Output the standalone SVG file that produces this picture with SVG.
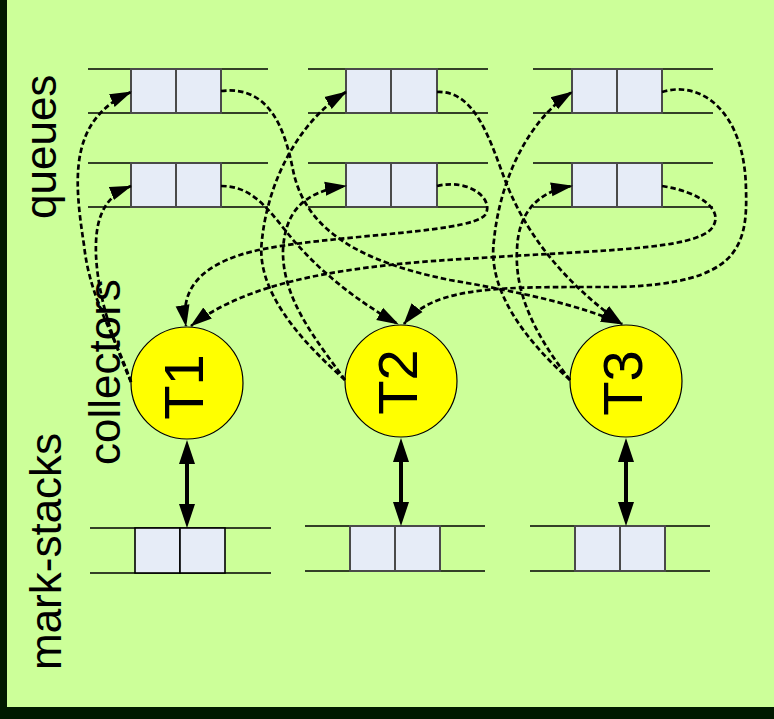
<svg xmlns="http://www.w3.org/2000/svg" width="774" height="719" viewBox="0 0 774 719">
<defs>
<style>
.bg{fill:#CCFF99}
.dark{fill:#001a00}
.ql{stroke:#000;stroke-width:1.4;fill:none}
.cell{fill:#E6ECF7;stroke:#4a4a4a;stroke-width:2}
.circ{fill:#FFFF00;stroke:#000;stroke-width:1.2}
.lbl{font-family:"Liberation Sans",Arial,sans-serif;font-size:44px;fill:#000}
.tl{font-family:"Liberation Sans",Arial,sans-serif;font-size:56px;fill:#000;text-anchor:middle}
.dash{fill:none;stroke:#000;stroke-width:2.7;stroke-dasharray:5.5 3;marker-end:url(#ah)}
.dbl{stroke:#000;stroke-width:4}
</style>
<marker id="ah" markerUnits="userSpaceOnUse" markerWidth="22" markerHeight="16" viewBox="0 0 22 16" refX="21" refY="8" orient="auto">
<path d="M0,1 L22,8 L0,15 z" fill="#000"/>
</marker>
</defs>
<rect class="bg" x="0" y="0" width="774" height="719"/>
<rect class="dark" x="0" y="0" width="7" height="719"/>
<rect class="dark" x="0" y="707" width="774" height="12"/>

<g id="label-queues"><text class="lbl" transform="translate(56,219) rotate(-90)">queues</text></g>
<g id="label-collectors"><text class="lbl" transform="translate(120,465) rotate(-90)">collectors</text></g>
<g id="label-markstacks"><text class="lbl" transform="translate(61,670) rotate(-90)">mark-stacks</text></g>

<g id="queue-1a">
<line class="ql" x1="88" y1="69" x2="268" y2="69"/><line class="ql" x1="88" y1="113" x2="268" y2="113"/>
<rect class="cell" x="131" y="69" width="45" height="44"/><rect class="cell" x="176" y="69" width="45" height="44"/>
</g>
<g id="queue-1b">
<line class="ql" x1="88" y1="163" x2="268" y2="163"/><line class="ql" x1="88" y1="207" x2="268" y2="207"/>
<rect class="cell" x="131" y="163" width="45" height="44"/><rect class="cell" x="176" y="163" width="45" height="44"/>
</g>
<g id="queue-2a">
<line class="ql" x1="308" y1="69" x2="488" y2="69"/><line class="ql" x1="308" y1="113" x2="488" y2="113"/>
<rect class="cell" x="346" y="69" width="45" height="44"/><rect class="cell" x="391" y="69" width="46" height="44"/>
</g>
<g id="queue-2b">
<line class="ql" x1="308" y1="163" x2="488" y2="163"/><line class="ql" x1="308" y1="207" x2="488" y2="207"/>
<rect class="cell" x="346" y="163" width="45" height="44"/><rect class="cell" x="391" y="163" width="46" height="44"/>
</g>
<g id="queue-3a">
<line class="ql" x1="533" y1="69" x2="713" y2="69"/><line class="ql" x1="533" y1="113" x2="713" y2="113"/>
<rect class="cell" x="572" y="69" width="45" height="44"/><rect class="cell" x="617" y="69" width="45" height="44"/>
</g>
<g id="queue-3b">
<line class="ql" x1="533" y1="163" x2="713" y2="163"/><line class="ql" x1="533" y1="207" x2="713" y2="207"/>
<rect class="cell" x="572" y="163" width="45" height="44"/><rect class="cell" x="617" y="163" width="45" height="44"/>
</g>

<g id="stack-1">
<line class="ql" x1="90" y1="528" x2="271" y2="528"/><line class="ql" x1="90" y1="573" x2="271" y2="573"/>
<rect class="cell" x="135" y="528" width="45" height="45" style="stroke:#000;stroke-width:1.6"/><rect class="cell" x="180" y="528" width="45" height="45" style="stroke:#000;stroke-width:1.6"/>
</g>
<g id="stack-2">
<line class="ql" x1="305" y1="526" x2="485" y2="526"/><line class="ql" x1="305" y1="571" x2="485" y2="571"/>
<rect class="cell" x="350" y="526" width="45" height="45"/><rect class="cell" x="395" y="526" width="45" height="45"/>
</g>
<g id="stack-3">
<line class="ql" x1="530" y1="526" x2="710" y2="526"/><line class="ql" x1="530" y1="571" x2="710" y2="571"/>
<rect class="cell" x="575" y="526" width="45" height="45"/><rect class="cell" x="620" y="526" width="45" height="45"/>
</g>

<g id="T1"><circle class="circ" cx="187" cy="383" r="56"/><text class="tl" transform="translate(203,387) rotate(-90)">T1</text></g>
<g id="T2"><circle class="circ" cx="401" cy="381" r="56"/><text class="tl" transform="translate(417,382) rotate(-90)">T2</text></g>
<g id="T3"><circle class="circ" cx="626" cy="381" r="56"/><text class="tl" transform="translate(642,383) rotate(-90)">T3</text></g>

<g id="connectors">
<path class="dash" d="M131,382 C115,335 90,300 84,245 C74,180 68,120 131,92"/>
<path class="dash" d="M131,382 C115,345 98,300 96,255 C95,225 100,198 131,186"/>
<path class="dash" d="M345,380 C300,340 255,290 262,240 C268,180 300,120 346,92"/>
<path class="dash" d="M345,380 C318,342 282,300 283,250 C285,215 300,192 346,186"/>
<path class="dash" d="M570,380 C525,340 487,290 494,240 C500,180 528,120 572,92"/>
<path class="dash" d="M570,380 C543,345 514,300 517,250 C518,215 535,192 572,186"/>
<path class="dash" d="M221,91 C270,85 285,130 293,170 C305,230 360,262 450,280 C520,292 580,305 622,324"/>
<path class="dash" d="M437,92 C475,90 490,140 505,180 C530,245 575,290 622,324"/>
<path class="dash" d="M221,186 C250,186 265,205 285,230 C315,268 355,300 398,324"/>
<path class="dash" d="M437,186 C470,178 495,200 485,215 C470,235 300,235 240,255 C200,268 180,290 186,326"/>
<path class="dash" d="M662,186 C700,192 725,210 712,228 C695,250 600,250 480,258 C350,265 250,280 191,326"/>
<path class="dash" d="M662,92 C700,80 745,110 746,190 C748,250 735,283 620,287 C500,287 435,285 404,324"/>
<line class="dbl" x1="187" y1="460" x2="187" y2="508"/>
<polygon points="187,440 179,464 195,464"/><polygon points="187,528 179,504 195,504"/>
<line class="dbl" x1="401" y1="458" x2="401" y2="506"/>
<polygon points="401,438 393,462 409,462"/><polygon points="401,526 393,502 409,502"/>
<line class="dbl" x1="626" y1="458" x2="626" y2="506"/>
<polygon points="626,438 618,462 634,462"/><polygon points="626,526 618,502 634,502"/>
</g>
</svg>
